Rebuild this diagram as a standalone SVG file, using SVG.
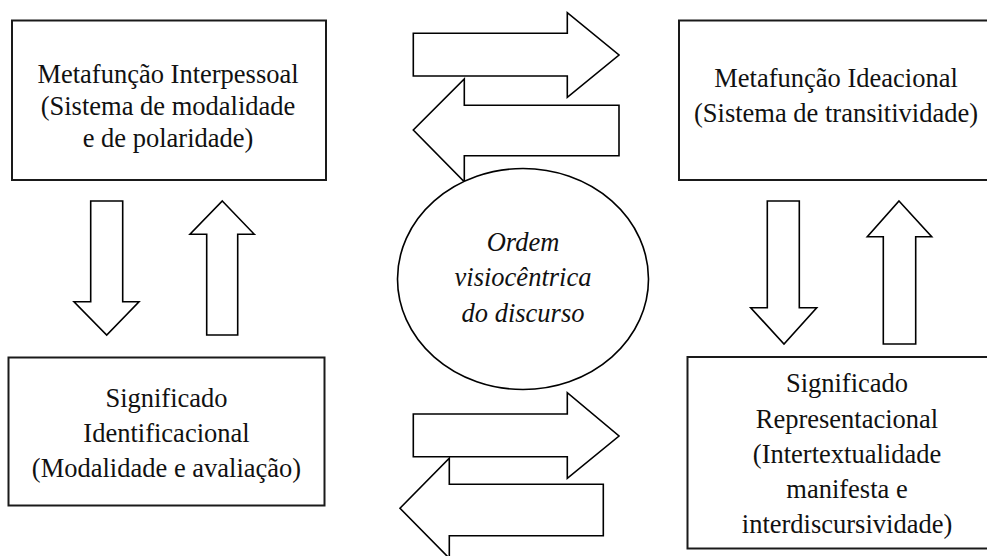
<svg xmlns="http://www.w3.org/2000/svg" width="987" height="556" viewBox="0 0 987 556">
  <style>
    .box { fill: #ffffff; stroke: #1a1a1a; stroke-width: 2; }
    .arrow { fill: #ffffff; stroke: #000000; stroke-width: 1.6; stroke-linejoin: miter; }
    .oval { fill: #ffffff; stroke: #000000; stroke-width: 1.6; }
    .label { font-family: "Liberation Serif", "Times New Roman", serif; font-size: 26.5px; fill: #111111; text-anchor: middle; }
    .italic { font-style: italic; }
  </style>
  <rect width="987" height="556" fill="#ffffff"/>

  <!-- connectors: block arrows between the boxes and the central oval -->
  <g id="connectors">
    <polygon class="arrow" points="413.3,33.3 567.3,33.3 567.3,12.7 619,55 567.3,97.3 567.3,76 413.3,76"/>
    <polygon class="arrow" points="619,105.3 464.3,105.3 464.3,79 413.3,130 464.3,181.7 464.3,155.7 619,155.7"/>
    <polygon class="arrow" points="413.3,414 567.3,414 567.3,392.7 619,436 567.3,478.3 567.3,456.7 413.3,456.7"/>
    <polygon class="arrow" points="603.3,484.3 449.3,484.3 449.3,458.3 400,508.3 449.3,558.3 449.3,535.7 603.3,535.7"/>
    <polygon class="arrow" points="90.7,201 122.7,201 122.7,301.7 139,301.7 106.7,335 74,301.7 90.7,301.7"/>
    <polygon class="arrow" points="222.3,201 254.3,234.3 237.7,234.3 237.7,335 206.7,335 206.7,234.3 190,234.3"/>
    <polygon class="arrow" points="767.3,201 799.3,201 799.3,307.7 816.7,307.7 784,344 750.7,307.7 767.3,307.7"/>
    <polygon class="arrow" points="899,201 931.7,236.7 915.7,236.7 915.7,344 883.3,344 883.3,236.7 867.3,236.7"/>
  </g>

  <g id="interpessoal">
    <rect class="box" x="12" y="20.5" width="314" height="159.5"/>
    <text class="label" x="168" y="83">Metafunção Interpessoal</text>
    <text class="label" x="168" y="115">(Sistema de modalidade</text>
    <text class="label" x="168" y="147">e de polaridade)</text>
  </g>

  <g id="ideacional">
    <rect class="box" x="679" y="20.5" width="330" height="159.5"/>
    <text class="label" x="836" y="87">Metafunção Ideacional</text>
    <text class="label" x="836" y="122">(Sistema de transitividade)</text>
  </g>

  <g id="identificacional">
    <rect class="box" x="8.5" y="357.5" width="316" height="148"/>
    <text class="label" x="166.5" y="407">Significado</text>
    <text class="label" x="166.5" y="442">Identificacional</text>
    <text class="label" x="166.5" y="477">(Modalidade e avaliação)</text>
  </g>

  <g id="representacional">
    <rect class="box" x="687.5" y="357" width="330" height="191.5"/>
    <text class="label" x="847" y="392">Significado</text>
    <text class="label" x="847" y="428">Representacional</text>
    <text class="label" x="847" y="463">(Intertextualidade</text>
    <text class="label" x="847" y="498">manifesta e</text>
    <text class="label" x="847" y="533">interdiscursividade)</text>
  </g>

  <g id="ordem">
    <ellipse class="oval" cx="523" cy="279" rx="125.5" ry="110.5"/>
    <text class="label italic" x="523" y="251">Ordem</text>
    <text class="label italic" x="523" y="286">visiocêntrica</text>
    <text class="label italic" x="523" y="322">do discurso</text>
  </g>
</svg>
